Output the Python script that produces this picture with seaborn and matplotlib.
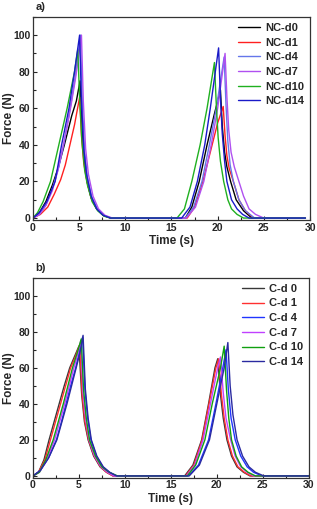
import numpy as np
import pandas as pd
import matplotlib
matplotlib.use("Agg")
import matplotlib.pyplot as plt
from matplotlib.ticker import MultipleLocator
import seaborn as sns

# ---- panel a) NC samples: (time s, force N) ----
nc_labels = ["NC-d0", "NC-d1", "NC-d4", "NC-d7", "NC-d10", "NC-d14"]
nc_colors = ["#000000", "#ff2020", "#6576ea", "#b050f0", "#20b020", "#1a1ac8"]

nc_d0_t = [0, 0.7, 1.4, 2.1, 2.7, 3.4, 4.2, 4.7, 5.1, 5.3, 5.55, 5.85, 6.3, 6.9, 7.6, 8.4,
           16.5, 17.2, 18.0, 18.85, 19.6, 20.3, 20.5, 20.75, 21.0, 21.4, 22.0, 22.8, 23.7, 29.5]
nc_d0_f = [0, 3, 9, 18, 27, 40, 56, 64, 75, 50, 32, 20, 11, 5, 1.5, 0,
           0, 6, 20, 40, 56, 70, 50, 36, 28, 20, 10, 4, 0, 0]

nc_d1_t = [0, 0.8, 1.6, 2.3, 3.0, 3.5, 4.0, 4.5, 5.05, 5.25, 5.5, 5.85, 6.3, 6.9, 7.6, 8.4,
           16.7, 17.5, 18.4, 19.4, 20.0, 20.6, 20.8, 21.0, 21.25, 21.7, 22.3, 23.0, 23.9, 29.5]
nc_d1_f = [0, 2, 6, 13, 21, 29, 40, 51, 66, 45, 30, 20, 11, 5, 1.5, 0,
           0, 6, 20, 40, 52, 61, 45, 34, 27, 20, 10, 4, 0, 0]

nc_d4_t = [0, 0.7, 1.4, 2.1, 2.8, 3.4, 4.1, 4.6, 5.15, 5.35, 5.6, 5.9, 6.4, 7.0, 7.7, 8.5,
           16.5, 17.4, 18.3, 19.1, 19.85, 20.7, 20.9, 21.1, 21.35, 21.7, 22.3, 23.0, 24.0, 29.5]
nc_d4_f = [0, 2, 7, 16, 28, 42, 62, 78, 100, 62, 36, 22, 11, 5, 1.5, 0,
           0, 6, 20, 40, 60, 88, 62, 42, 29, 20, 10, 4, 0, 0]

nc_d7_t = [0, 0.7, 1.4, 2.1, 2.7, 3.3, 4.0, 4.6, 5.25, 5.45, 5.7, 6.0, 6.5, 7.1, 7.8, 8.6,
           16.6, 17.6, 18.5, 19.3, 20.0, 20.8, 21.0, 21.2, 21.45, 21.8, 22.3, 22.8, 23.4, 24.1, 25.0, 29.5]
nc_d7_f = [0, 2, 7, 15, 26, 40, 58, 76, 100, 64, 38, 24, 12, 5, 1.5, 0,
           0, 6, 20, 40, 60, 90, 66, 48, 36, 28, 20, 12, 5, 2, 0, 0]

nc_d10_t = [0, 0.5, 1.1, 1.9, 2.8, 3.7, 4.5, 4.85, 5.05, 5.3, 5.6, 5.9, 6.4, 7.0, 7.7, 8.4,
            15.6, 16.4, 17.2, 18.1, 18.85, 19.65, 19.85, 20.05, 20.3, 20.65, 21.1, 21.5, 22.1, 22.8, 29.5]
nc_d10_f = [0, 3, 9, 20, 40, 60, 80, 92, 66, 42, 26, 18, 9, 4, 1, 0,
            0, 5, 20, 40, 60, 85, 62, 44, 31, 20, 10, 5, 2, 0, 0]

nc_d14_t = [0, 0.7, 1.5, 2.4, 3.1, 3.9, 4.5, 5.05, 5.25, 5.5, 5.8, 6.3, 6.9, 7.6, 8.4,
            16.1, 17.0, 17.8, 18.6, 19.2, 20.1, 20.3, 20.5, 20.75, 21.0, 21.5, 22.1, 22.7, 23.4, 29.5]
nc_d14_f = [0, 3, 9, 20, 40, 60, 80, 100, 64, 38, 24, 12, 5, 1.5, 0,
            0, 6, 20, 40, 60, 93, 66, 46, 31, 20, 10, 5, 2, 0, 0]

# ---- panel b) C samples ----
c_labels = ["C-d 0", "C-d 1", "C-d 4", "C-d 7", "C-d 10", "C-d 14"]
c_colors = ["#383838", "#ff3030", "#2035ff", "#c040ff", "#10a010", "#2a2aa0"]

c_d0_t = [0, 0.6, 1.2, 1.75, 2.3, 2.85, 3.4, 4.0, 4.5, 5.0, 5.3, 5.6, 6.0, 6.6, 7.3, 8.0, 8.7,
          16.5, 17.4, 18.35, 19.1, 19.8, 20.1, 20.4, 20.7, 21.1, 21.6, 22.2, 22.9, 23.6, 30]
c_d0_f = [0, 2, 9, 20, 30, 40, 50, 60, 66, 72, 45, 30, 20, 11, 5, 2, 0,
          0, 6, 20, 40, 60, 65, 45, 32, 20, 11, 5, 2, 0, 0]

c_d1_t = [0, 0.6, 1.3, 1.9, 2.45, 3.0, 3.55, 4.1, 4.6, 5.1, 5.35, 5.65, 6.05, 6.65, 7.35, 8.0, 8.7,
          16.6, 17.5, 18.4, 19.15, 19.9, 20.2, 20.5, 20.8, 21.2, 21.7, 22.3, 23.0, 23.7, 30]
c_d1_f = [0, 2, 9, 20, 30, 40, 50, 60, 66, 73, 45, 30, 20, 11, 5, 2, 0,
          0, 6, 20, 40, 60, 65, 45, 32, 20, 11, 5, 2, 0, 0]

c_d4_t = [0, 0.8, 1.7, 2.55, 3.1, 3.6, 4.1, 4.65, 5.0, 5.4, 5.65, 5.95, 6.3, 6.9, 7.6, 8.3, 9.0,
          16.9, 18.0, 19.1, 19.9, 20.65, 21.0, 21.25, 21.55, 22.0, 22.6, 23.3, 24.0, 24.9, 30]
c_d4_f = [0, 3, 10, 20, 30, 40, 50, 60, 68, 77, 48, 32, 20, 11, 5, 2, 0,
          0, 6, 20, 40, 60, 70, 48, 32, 20, 11, 5, 2, 0, 0]

c_d7_t = [0, 0.7, 1.5, 2.35, 2.9, 3.45, 3.95, 4.45, 4.85, 5.2, 5.45, 5.75, 6.1, 6.7, 7.4, 8.1, 8.8,
          16.7, 17.6, 18.5, 19.3, 20.1, 20.4, 20.7, 21.0, 21.5, 22.0, 22.6, 23.3, 24.0, 30]
c_d7_f = [0, 2, 9, 20, 30, 40, 50, 60, 67, 75, 46, 31, 20, 11, 5, 2, 0,
          0, 6, 20, 40, 60, 66, 46, 32, 20, 11, 5, 2, 0, 0]

c_d10_t = [0, 0.7, 1.4, 2.2, 2.75, 3.3, 3.8, 4.3, 4.8, 5.25, 5.5, 5.8, 6.15, 6.8, 7.5, 8.3, 9.2,
           16.8, 17.7, 18.7, 19.5, 20.4, 20.8, 21.05, 21.3, 21.6, 22.1, 22.7, 23.4, 24.2, 30]
c_d10_f = [0, 2, 9, 20, 30, 40, 50, 60, 68, 76, 48, 32, 20, 11, 5, 2, 0,
           0, 6, 20, 40, 60, 72, 48, 32, 20, 11, 5, 2, 0, 0]

c_d14_t = [0, 0.8, 1.7, 2.6, 3.15, 3.7, 4.2, 4.7, 5.1, 5.45, 5.7, 6.0, 6.35, 6.95, 7.65, 8.35, 9.1,
           17.0, 18.1, 19.2, 20.0, 20.8, 21.2, 21.45, 21.75, 22.2, 22.8, 23.5, 24.2, 25.1, 30]
c_d14_f = [0, 3, 10, 20, 30, 40, 50, 60, 68, 78, 48, 32, 20, 11, 5, 2, 0,
           0, 6, 20, 40, 60, 74, 50, 34, 20, 11, 5, 2, 0, 0]


def build_frame(labels, times, forces):
    rows = []
    for lab, t, f in zip(labels, times, forces):
        for i, (ti, fi) in enumerate(zip(t, f)):
            rows.append({"series": lab, "order": i, "Time": ti, "Force": fi})
    return pd.DataFrame(rows)


df_a = build_frame(nc_labels,
                   [nc_d0_t, nc_d1_t, nc_d4_t, nc_d7_t, nc_d10_t, nc_d14_t],
                   [nc_d0_f, nc_d1_f, nc_d4_f, nc_d7_f, nc_d10_f, nc_d14_f])
df_b = build_frame(c_labels,
                   [c_d0_t, c_d1_t, c_d4_t, c_d7_t, c_d10_t, c_d14_t],
                   [c_d0_f, c_d1_f, c_d4_f, c_d7_f, c_d10_f, c_d14_f])

sns.set_style("ticks")
plt.rcParams["font.family"] = ["Liberation Sans", "DejaVu Sans"]
plt.rcParams["font.weight"] = "bold"

fig = plt.figure(figsize=(3.17, 5.09), dpi=100)
ax_a = fig.add_axes([0.104, 0.568, 0.874, 0.399])
ax_b = fig.add_axes([0.104, 0.0615, 0.870, 0.393])


def style_panel(ax, df, labels, colors, tag):
    sns.lineplot(data=df, x="Time", y="Force", hue="series", hue_order=labels,
                 palette=colors, sort=False, estimator=None, units="series",
                 linewidth=1.0, ax=ax, legend=True)
    ax.set_xlim(0, 30)
    ax.set_ylim(-1, 110)
    ax.xaxis.set_major_locator(MultipleLocator(5))
    ax.xaxis.set_minor_locator(MultipleLocator(2.5))
    ax.yaxis.set_major_locator(MultipleLocator(20))
    ax.yaxis.set_minor_locator(MultipleLocator(10))
    ax.tick_params(which="both", direction="in", top=False, right=False,
                   labelsize=7.5, width=0.8, pad=2)
    ax.tick_params(which="major", length=3)
    ax.tick_params(which="minor", length=2)
    for lbl in ax.get_xticklabels() + ax.get_yticklabels():
        lbl.set_fontweight("bold")
    for sp in ax.spines.values():
        sp.set_linewidth(0.9)
        sp.set_color("#333333")
    ax.set_xlabel("Time (s)", fontsize=8.5, fontweight="bold", labelpad=2)
    ax.set_ylabel("Force (N)", fontsize=8.5, fontweight="bold")
    ax.yaxis.set_label_coords(-0.066, 0.5)
    leg = ax.legend(loc="upper right", frameon=False,
                    handlelength=2.0, handletextpad=0.4, labelspacing=0.42,
                    borderaxespad=0.15, prop={"weight": "bold", "size": 8})
    for line in leg.get_lines():
        line.set_linewidth(1.0)
    ax.text(0.01, 1.025, tag, transform=ax.transAxes, fontsize=8,
            fontweight="bold", ha="left", va="bottom")


style_panel(ax_a, df_a, nc_labels, nc_colors, "a)")
style_panel(ax_b, df_b, c_labels, c_colors, "b)")

fig.savefig("out.png", dpi=100)
